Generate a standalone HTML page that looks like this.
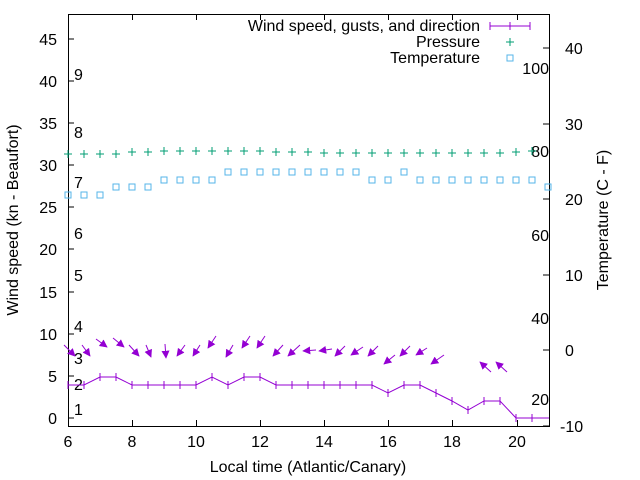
<!DOCTYPE html>
<html><head><meta charset="utf-8"><style>body{margin:0;background:#fff}svg{display:block}text{font-family:"Liberation Sans",sans-serif;fill:#000}</style></head><body>
<svg width="640" height="480" viewBox="0 0 640 480" xmlns="http://www.w3.org/2000/svg">
<defs><marker id="ah" viewBox="0 0 10 10" refX="9" refY="5" markerUnits="userSpaceOnUse" markerWidth="8" markerHeight="8" orient="auto"><path d="M0,0L10,5L0,10z" fill="#9400d3"/></marker></defs>
<g stroke="#000" stroke-width="1" fill="none">
<rect x="68.5" y="14.5" width="481" height="412"/>
<path d="M68,418h6M68,376h6M68,334h6M68,292h6M68,249h6M68,207h6M68,165h6M68,123h6M68,81h6M68,39h6
M549,426h-6M549,350h-6M549,275h-6M549,199h-6M549,124h-6M549,48h-6
M68.5,426v-6M132.5,426v-6M196.5,426v-6M260.5,426v-6M324.5,426v-6M388.5,426v-6M452.5,426v-6M517.5,426v-6
M68.5,14v6M132.5,14v6M196.5,14v6M260.5,14v6M324.5,14v6M388.5,14v6M452.5,14v6M517.5,14v6"/>
</g>
<g font-size="16" text-anchor="end">
<text x="57" y="424">0</text><text x="57" y="382">5</text><text x="57" y="340">10</text><text x="57" y="298">15</text><text x="57" y="255">20</text><text x="57" y="213">25</text><text x="57" y="171">30</text><text x="57" y="129">35</text><text x="57" y="87">40</text><text x="57" y="45">45</text>
</g>
<g font-size="16" text-anchor="start">
<text x="560" y="432">-10</text><text x="565" y="356">0</text><text x="565" y="281">10</text><text x="565" y="205">20</text><text x="565" y="130">30</text><text x="565" y="54">40</text>
</g>
<g font-size="16" text-anchor="middle">
<text x="68" y="447">6</text><text x="132" y="447">8</text><text x="196" y="447">10</text><text x="260" y="447">12</text><text x="324" y="447">14</text><text x="388" y="447">16</text><text x="452" y="447">18</text><text x="517" y="447">20</text>
<text x="308" y="472">Local time (Atlantic/Canary)</text>
<text transform="translate(18,220) rotate(-90)">Wind speed (kn - Beaufort)</text>
<text transform="translate(608,220) rotate(-90)">Temperature (C - F)</text>
</g>
<g font-size="16">
<text x="74" y="415">1</text><text x="74" y="390">2</text><text x="74" y="364">3</text><text x="74" y="332">4</text><text x="74" y="281">5</text><text x="74" y="239">6</text><text x="74" y="188">7</text><text x="74" y="138">8</text><text x="74" y="80">9</text>
</g>
<g font-size="16" text-anchor="end">
<text x="549" y="405">20</text><text x="549" y="324">40</text><text x="549" y="241">60</text><text x="549" y="157">80</text><text x="549" y="74">100</text>
<text x="480" y="31">Wind speed, gusts, and direction</text>
<text x="480" y="47">Pressure</text>
<text x="480" y="63">Temperature</text>
</g>
<g stroke="#9400d3" fill="none" stroke-width="1">
<path d="M490,26h40M490,22v8M530,22v8M510,22v8"/>
<polyline points="68,385 84,385 100,377 116,377 132,385 148,385 164,385 180,385 196,385 212,377 228,385 244,377 260,377 276,385 292,385 308,385 324,385 340,385 356,385 372,385 388,393 404,385 420,385 436,393 452,401 468,410 484,401 500,401 516,418 532,418 549,418"/>
<path d="M68,381v8M84,381v8M100,373v8M116,373v8M132,381v8M148,381v8M164,381v8M180,381v8M196,381v8M212,373v8M228,381v8M244,373v8M260,373v8M276,381v8M292,381v8M308,381v8M324,381v8M340,381v8M356,381v8M372,381v8M388,389v8M404,381v8M420,381v8M436,389v8M452,397v8M468,406v8M484,397v8M500,397v8M516,414v8M532,414v8"/>
<g marker-end="url(#ah)">
<line x1="64" y1="345" x2="75" y2="356"/><line x1="82" y1="345" x2="90" y2="356"/><line x1="96" y1="339" x2="107" y2="347"/><line x1="113" y1="338" x2="124" y2="347"/><line x1="129" y1="345" x2="139" y2="356"/><line x1="146" y1="345" x2="151" y2="357"/><line x1="165" y1="344" x2="166" y2="358"/><line x1="185" y1="345" x2="177" y2="356"/><line x1="200" y1="345" x2="193" y2="356"/><line x1="216" y1="336" x2="208" y2="348"/><line x1="233" y1="345" x2="226" y2="357"/><line x1="250" y1="336" x2="242" y2="348"/><line x1="265" y1="336" x2="257" y2="348"/><line x1="283" y1="345" x2="273" y2="356"/><line x1="300" y1="345" x2="288" y2="356"/><line x1="316" y1="350" x2="303" y2="351"/><line x1="332" y1="349" x2="319" y2="351"/><line x1="345" y1="346" x2="335" y2="356"/><line x1="363" y1="347" x2="351" y2="355"/><line x1="378" y1="346" x2="368" y2="356"/><line x1="395" y1="355" x2="384" y2="364"/><line x1="410" y1="346" x2="400" y2="356"/><line x1="427" y1="348" x2="416" y2="355"/><line x1="444" y1="355" x2="431" y2="364"/><line x1="491" y1="372" x2="480" y2="362"/><line x1="507" y1="372" x2="496" y2="362"/>
</g>
</g>
<g stroke="#009e73" stroke-width="1" fill="none">
<path d="M506,42h8M510,38v8
M64,154h8M68,150v8 M80,154h8M84,150v8 M96,154h8M100,150v8 M112,154h8M116,150v8 M128,152h8M132,148v8 M144,152h8M148,148v8 M160,151h8M164,147v8 M176,151h8M180,147v8 M192,151h8M196,147v8 M208,151h8M212,147v8 M224,151h8M228,147v8 M240,151h8M244,147v8 M256,151h8M260,147v8 M272,152h8M276,148v8 M288,152h8M292,148v8 M304,152h8M308,148v8 M320,153h8M324,149v8 M336,153h8M340,149v8 M352,153h8M356,149v8 M368,153h8M372,149v8 M384,153h8M388,149v8 M400,153h8M404,149v8 M416,153h8M420,149v8 M432,153h8M436,149v8 M448,153h8M452,149v8 M464,153h8M468,149v8 M480,153h8M484,149v8 M496,153h8M500,149v8 M512,152h8M516,148v8 M528,151h8M532,147v8"/>
</g>
<g stroke="#56b4e9" stroke-width="1" fill="none">
<rect x="507" y="55" width="6" height="6"/>
<rect x="65" y="192" width="6" height="6"/><rect x="81" y="192" width="6" height="6"/><rect x="97" y="192" width="6" height="6"/>
<rect x="113" y="184" width="6" height="6"/><rect x="129" y="184" width="6" height="6"/><rect x="145" y="184" width="6" height="6"/>
<rect x="161" y="177" width="6" height="6"/><rect x="177" y="177" width="6" height="6"/><rect x="193" y="177" width="6" height="6"/><rect x="209" y="177" width="6" height="6"/>
<rect x="225" y="169" width="6" height="6"/><rect x="241" y="169" width="6" height="6"/><rect x="257" y="169" width="6" height="6"/><rect x="273" y="169" width="6" height="6"/><rect x="289" y="169" width="6" height="6"/><rect x="305" y="169" width="6" height="6"/><rect x="321" y="169" width="6" height="6"/><rect x="337" y="169" width="6" height="6"/><rect x="353" y="169" width="6" height="6"/>
<rect x="369" y="177" width="6" height="6"/><rect x="385" y="177" width="6" height="6"/>
<rect x="401" y="169" width="6" height="6"/>
<rect x="417" y="177" width="6" height="6"/><rect x="433" y="177" width="6" height="6"/><rect x="449" y="177" width="6" height="6"/><rect x="465" y="177" width="6" height="6"/><rect x="481" y="177" width="6" height="6"/><rect x="497" y="177" width="6" height="6"/><rect x="513" y="177" width="6" height="6"/><rect x="529" y="177" width="6" height="6"/>
<rect x="545" y="184" width="6" height="6"/>
</g>
</svg>
</body></html>
